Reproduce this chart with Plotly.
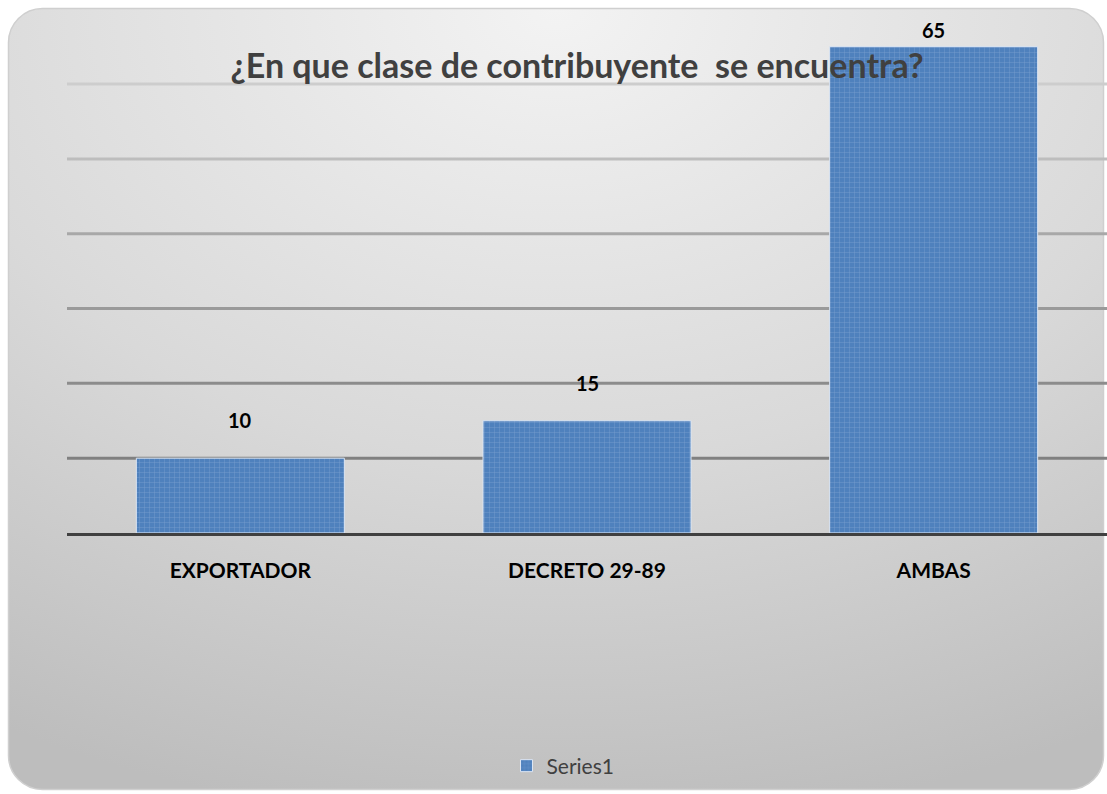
import base64
import plotly.graph_objects as go

categories = ["EXPORTADOR", "DECRETO 29-89", "AMBAS"]
values = [10, 15, 65]
grid_levels = [10, 20, 30, 40, 50, 60]
grid_colors = ["#808080", "#8c8c8c", "#9a9a9a", "#a8a8a8", "#bdbdbd", "#cdcdcd"]
label_shift = [38, 38, 17]

W, H = 1107, 794
ML, MR, MT, MB = 67, 0, 10, 261
PW, PH = W - ML - MR, H - MT - MB

# rounded gradient panel behind the chart
svg = f"""<svg xmlns='http://www.w3.org/2000/svg' width='{W}' height='{H}' viewBox='0 0 {W} {H}'>
<defs>
<radialGradient id='g' cx='0.5' cy='0.0' r='1.05' fx='0.5' fy='0.0'>
<stop offset='0' stop-color='#f3f3f3'/>
<stop offset='0.55' stop-color='#d9d9d9'/>
<stop offset='1' stop-color='#bdbdbd'/>
</radialGradient>
</defs>
<rect x='8.5' y='8.5' width='1095' height='781' rx='34' ry='34' fill='url(#g)' stroke='#cfcfcf' stroke-width='1.5'/>
</svg>"""
src = "data:image/svg+xml;base64," + base64.b64encode(svg.encode()).decode()

fig = go.Figure()
fig.add_trace(go.Bar(
    x=categories, y=values, name="Series1",
    width=0.6,
    marker=dict(
        color="#4f81bd",
        line=dict(color="#dbe5f3", width=1),
        pattern=dict(shape="+", size=5, solidity=0.15,
                     fgcolor="#a3bde0", bgcolor="#4f81bd", fillmode="overlay"),
    ),
    showlegend=True,
))

for lvl, col in zip(grid_levels, grid_colors):
    fig.add_hline(y=lvl, line_color=col, line_width=3, layer="below")

for cat, val, sh in zip(categories, values, label_shift):
    fig.add_annotation(x=cat, y=val, text=f"<b>{val}</b>", showarrow=False,
                       yshift=sh, font=dict(size=20, color="#000000"))

fig.add_layout_image(dict(
    source=src, xref="paper", yref="paper",
    x=-ML / PW, y=(PH + MT) / PH, sizex=W / PW, sizey=H / PH,
    xanchor="left", yanchor="top", sizing="stretch", layer="below",
))

fig.update_layout(
    width=W, height=H,
    margin=dict(l=ML, r=MR, t=MT, b=MB),
    paper_bgcolor="#ffffff", plot_bgcolor="rgba(0,0,0,0)",
    font=dict(family="Lato, Carlito, sans-serif", color="#404040"),
    title=dict(text="<b>¿En que clase de contribuyente  se encuentra?</b>",
               x=577 / W, xanchor="center", y=1 - 66 / H, yanchor="middle",
               font=dict(size=34, color="#404040")),
    bargap=0.4,
    showlegend=True,
    legend=dict(orientation="h", x=(563 - ML) / PW, xanchor="center",
                y=-(766 - (MT + PH)) / PH, yanchor="middle",
                font=dict(size=21, color="#404040"),
                bgcolor="rgba(0,0,0,0)", itemwidth=30),
)
fig.update_xaxes(showgrid=False, showline=True, linecolor="#404040", linewidth=3,
                 tickfont=dict(size=21, color="#000000", family="Lato, sans-serif"),
                 ticks="", ticklabelstandoff=17, fixedrange=True)
fig.update_yaxes(range=[0, 69.9], showgrid=False, showticklabels=False,
                 zeroline=False, fixedrange=True)
fig.update_xaxes(tickprefix="<b>", ticksuffix="</b>")

fig.write_html("out.html", config={"displayModeBar": False},
               post_script="document.body.style.margin='0';document.body.style.overflow='hidden';")
